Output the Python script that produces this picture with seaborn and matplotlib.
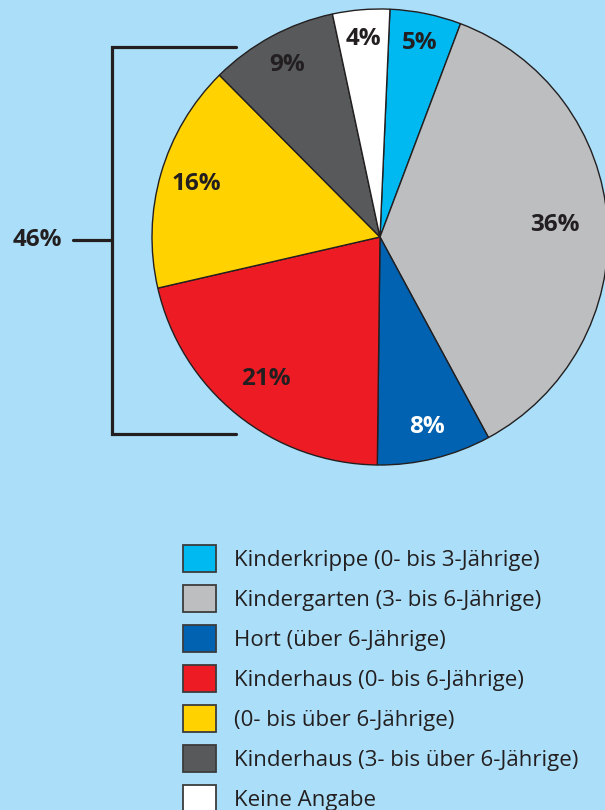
import seaborn as sns
import matplotlib.pyplot as plt
import numpy as np

categories = ["Kinderkrippe (0- bis 3-Jährige)", "Kindergarten (3- bis 6-Jährige)",
              "Hort (über 6-Jährige)", "Kinderhaus (0- bis 6-Jährige)",
              "(0- bis über 6-Jährige)", "Kinderhaus (3- bis über 6-Jährige)",
              "Keine Angabe"]
shares = [5, 36, 8, 21, 16, 9, 4]
colors = ["#00b9f1", "#bcbec0", "#0062b0", "#ed1c24", "#ffd200", "#58595b", "#ffffff"]
label_colors = ["#231f20", "#231f20", "#ffffff", "#231f20", "#231f20", "#231f20", "#231f20"]
label_dist = [0.87, 0.77, 0.86, 0.80, 0.84, 0.86, 0.87]
bracket_idx = [3, 4, 5]

bg = "#abdff9"
ink = "#231f20"

sns.set_theme(style="white")
plt.rcParams["font.family"] = ["Open Sans", "DejaVu Sans"]

W, H = 605, 810
fig = plt.figure(figsize=(W / 100, H / 100), dpi=100, facecolor=bg)
ax = fig.add_axes([0, 0, 1, 1])
ax.set_facecolor(bg)

cx, cy, R = 380, H - 237, 228
wedges, _, pcts = ax.pie(shares, colors=colors, startangle=87.5, counterclock=False,
                         center=(cx, cy), radius=R, autopct=lambda p: f"{p:.0f}%",
                         pctdistance=0.85,
                         wedgeprops=dict(edgecolor=ink, linewidth=1.0))

for w, t, d, c in zip(wedges, pcts, label_dist, label_colors):
    mid = np.deg2rad((w.theta1 + w.theta2) / 2)
    t.set_position((cx + d * R * np.cos(mid), cy + d * R * np.sin(mid)))
    t.set_color(c)
    t.set_fontsize(17.5)
    t.set_fontweight("bold")

ax.set_xlim(0, W)
ax.set_ylim(0, H)
ax.set_aspect("equal")
ax.axis("off")

# bracket for the three Kinderhaus-type slices
y_top, y_bot, x_br = H - 47, H - 434, 112
ax.plot([236, x_br, x_br, 236], [y_top, y_top, y_bot, y_bot], color=ink, lw=2.3,
        solid_joinstyle="miter")
ax.plot([73, x_br], [H - 240, H - 240], color=ink, lw=2.3)
ax.text(37, H - 240, f"{sum(shares[i] for i in bracket_idx)}%", ha="center", va="center",
        fontsize=17.5, fontweight="bold", color=ink)

leg = ax.legend(wedges, categories, loc="upper left", bbox_to_anchor=(163 / W, 1 - 525 / H),
                frameon=False, fontsize=16, handlelength=1.49, handleheight=1.493,
                handletextpad=0.81, labelspacing=0.585, labelcolor=ink)
for h in leg.legend_handles:
    h.set_linewidth(1.3)
    h.set_edgecolor("#3c3c3c")

fig.savefig("out.png", dpi=100, facecolor=bg)
